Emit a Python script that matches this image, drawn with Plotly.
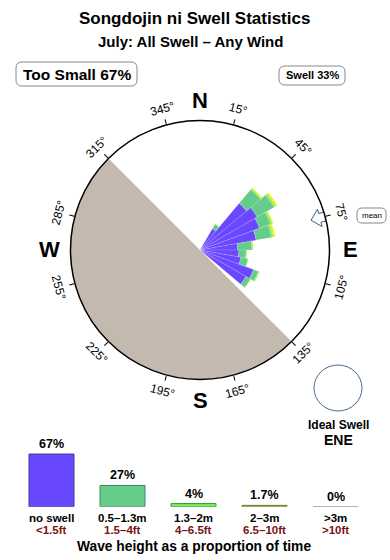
import math
import numpy as np
import plotly.graph_objects as go

W, H = 390, 560

# ---------------- data ----------------
directions = [35, 45, 55, 65, 75, 85, 95, 105, 115, 125]   # bin centres (deg)
bin_width = 10
swell_small = [1.9, 4.7, 5.1, 4.9, 4.4, 2.9, 3.0, 3.2, 4.4, 4.1]       # blue
swell_05_13 = [0.4, 1.4, 1.5, 0.9, 1.2, 1.1, 0.55, 0.55, 0.4, 0.4]     # green
swell_13_2 = [0.05, 0.1, 0.15, 0.15, 0.15, 0.1, 0.08, 0.05, 0.08, 0.03]  # lime
swell_2_3 = [0, 0.08, 0.15, 0.08, 0.15, 0, 0, 0, 0, 0]                # yellow
radial_max = 10
land_from, land_to = 135, 315
mean_dir = 75

height_labels = ["no swell", "0.5–1.3m", "1.3–2m", "2–3m", "&gt;3m"]
feet_labels = ["&lt;1.5ft", "1.5–4ft", "4–6.5ft", "6.5–10ft", "&gt;10ft"]
proportions = [67, 27, 4, 1.7, 0]
prop_text = ["67%", "27%", "4%", "1.7%", "0%"]
tick_dirs = list(range(15, 360, 30))

# ---------------- styles ----------------
FONT = "Liberation Sans, Arial, sans-serif"
rose_colors = ["#6a48ff", "#66cc8c", "#88ee44", "#eeee22"]
leg_fill = ["#6a48ff", "#66cc8c", "#77ee55", "#dddd33", "#c8b8b0"]
leg_line = ["#3a3a90", "#3a8a5a", "#3a9a3a", "#777733", "#c0aca4"]
RED = "#7a1212"

CX, CY, R = 200, 250, 129.5


def px(x):
    return x / W


def py(y):
    return 1 - y / H


fig = go.Figure()

# land sector
fig.add_trace(go.Barpolar(
    r=[radial_max], theta=[(land_from + land_to) / 2], width=[land_to - land_from],
    marker=dict(color="#c4b9ae", line=dict(width=0)), hoverinfo="skip", showlegend=False))

for vals, col in zip([swell_small, swell_05_13, swell_13_2, swell_2_3], rose_colors):
    fig.add_trace(go.Barpolar(
        r=vals, theta=directions, width=[bin_width] * len(directions),
        marker=dict(color=col, line=dict(width=0.4, color="rgba(255,255,255,0.35)")),
        showlegend=False))

# mean arrow (outline) – geometry in px relative to circle
scale = R / radial_max
arrow_pts = [(115, 0), (124, 9), (124, 4.5), (133, 4.5), (133, -4.5), (124, -4.5), (124, -9), (115, 0)]
ar = [math.hypot(a, b) / scale for a, b in arrow_pts]
at = [mean_dir + math.degrees(math.atan2(b, a)) for a, b in arrow_pts]
fig.add_trace(go.Scatterpolar(r=ar, theta=at, mode="lines", fill="toself", fillcolor="white",
                              line=dict(color="#3a5f8a", width=1), cliponaxis=False,
                              showlegend=False, hoverinfo="skip"))

# legend bars
bw = 45 / 71
xs = list(range(len(proportions)))
fig.add_trace(go.Bar(x=xs, y=proportions, width=bw,
                     marker=dict(color=leg_fill, line=dict(color=leg_line, width=1)),
                     xaxis="x", yaxis="y", showlegend=False))
for i, v in enumerate(proportions):
    if v == 0:
        fig.add_trace(go.Scatter(x=[i - bw / 2, i + bw / 2], y=[0, 0], mode="lines",
                                 line=dict(color=leg_line[i], width=1.5), showlegend=False,
                                 cliponaxis=False))

ann = []
shapes = []


def text(x, y, t, size, color="black", bold=False, angle=0, xref="paper", yref="paper", **kw):
    ann.append(dict(x=x, y=y, xref=xref, yref=yref, text=("<b>%s</b>" % t) if bold else t,
                    showarrow=False, textangle=angle, xanchor="center", yanchor="middle",
                    font=dict(family=FONT, size=size, color=color), **kw))


def rbox(x0, y0, x1, y1, r=6, color="#888888"):
    path = (f"M{px(x0 + r)},{py(y0)} L{px(x1 - r)},{py(y0)} Q{px(x1)},{py(y0)} {px(x1)},{py(y0 + r)} "
            f"L{px(x1)},{py(y1 - r)} Q{px(x1)},{py(y1)} {px(x1 - r)},{py(y1)} "
            f"L{px(x0 + r)},{py(y1)} Q{px(x0)},{py(y1)} {px(x0)},{py(y1 - r)} "
            f"L{px(x0)},{py(y0 + r)} Q{px(x0)},{py(y0)} {px(x0 + r)},{py(y0)} Z")
    shapes.append(dict(type="path", path=path, xref="paper", yref="paper",
                       line=dict(color=color, width=1), fillcolor="white"))


# titles
text(px(194), py(19), "Songdojin ni Swell Statistics", 17, bold=True)
text(px(190), py(42), "July: All Swell – Any Wind", 15, bold=True)

rbox(16, 62, 137, 86)
text(px(77), py(74.5), "Too Small 67%", 15.5, bold=True)
rbox(279, 66, 345, 85)
text(px(312), py(75.5), "Swell 33%", 11, bold=True)

# degree labels
for b in tick_dirs:
    a = math.radians(b)
    x = CX + 146 * math.sin(a)
    y = CY - 146 * math.cos(a)
    ang = ((b + 90) % 180) - 90
    text(px(x), py(y), f"{b}°", 12, angle=ang)

for lab, b in zip(["N", "E", "S", "W"], [0, 90, 180, 270]):
    a = math.radians(b)
    text(px(CX + 150 * math.sin(a)), py(CY - 150 * math.cos(a)), lab, 22, bold=True)

# mean label
rbox(357, 208, 386, 223, r=5)
text(px(371.5), py(215.5), "mean", 8)

# ideal swell
shapes.append(dict(type="circle", xref="paper", yref="paper",
                   x0=px(338 - 24), x1=px(338 + 24), y0=py(388 + 23), y1=py(388 - 23),
                   line=dict(color="#4a6a90", width=1)))
text(px(338), py(425), "Ideal Swell", 12, bold=True)
text(px(338), py(440), "ENE", 14, bold=True)

# legend texts
for i, (v, t) in enumerate(zip(proportions, prop_text)):
    ann.append(dict(x=i, y=v, xref="x", yref="y", text="<b>%s</b>" % t, showarrow=False,
                    yanchor="bottom", yshift=1, font=dict(family=FONT, size=12.5, color="black")))
    text(i, py(517.5), height_labels[i], 11.5, bold=True, xref="x")
    text(i, py(530), feet_labels[i], 11.5, color=RED, bold=True, xref="x")
text(px(194), py(546), "Wave height as a proportion of time", 13.8, bold=True)

a0 = -51.5 / 71
fig.update_layout(
    width=W, height=H, margin=dict(l=0, r=0, t=0, b=0),
    paper_bgcolor="white", plot_bgcolor="white",
    font=dict(family=FONT),
    polar=dict(
        domain=dict(x=[px(CX - R), px(CX + R)], y=[py(CY + R), py(CY - R)]),
        bgcolor="white", barmode="stack", bargap=0, hole=0,
        radialaxis=dict(range=[0, radial_max], visible=False, showgrid=False),
        angularaxis=dict(direction="clockwise", rotation=90, tickvals=tick_dirs,
                         showticklabels=False, ticks="outside", ticklen=5, tickwidth=1,
                         tickcolor="black", linecolor="black", linewidth=1.5, showgrid=False,
                         layer="above traces"),
    ),
    xaxis=dict(domain=[0, 1], range=[a0, a0 + W / 71], visible=False, fixedrange=True),
    yaxis=dict(domain=[py(506.7), py(452)], range=[0, (506.7 - 452) / 0.786], visible=False),
    annotations=ann, shapes=shapes, showlegend=False,
)

fig.write_html("out.html")
